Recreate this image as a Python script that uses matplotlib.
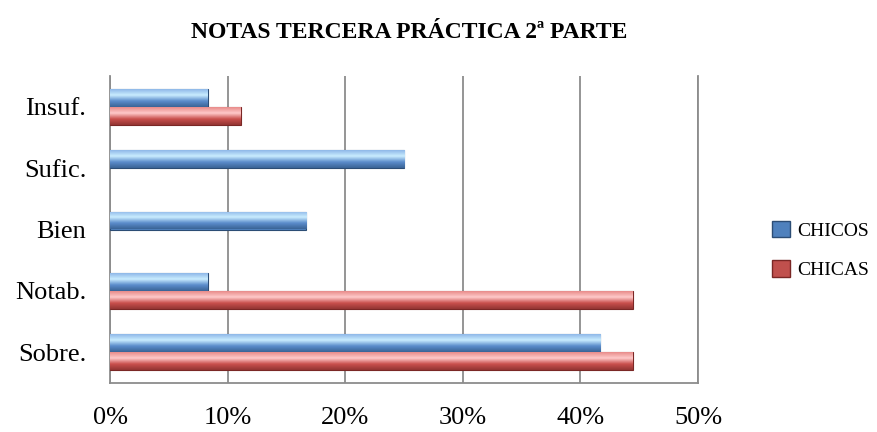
import matplotlib.pyplot as plt
import numpy as np
from matplotlib.colors import LinearSegmentedColormap
from matplotlib.patches import Patch

# notas por categoría (%)
categorias = ["Sobre.", "Notab.", "Bien", "Sufic.", "Insuf."]
chicos = [41.67, 8.33, 16.67, 25.0, 8.33]
chicas = [44.44, 44.44, 0.0, 0.0, 11.11]
xticks = [0, 10, 20, 30, 40, 50]

plt.rcParams['font.family'] = ['Liberation Serif', 'DejaVu Serif']

fig = plt.figure(figsize=(8.77, 4.32), dpi=100)
ax = fig.add_axes([110 / 877, 49 / 432, 588 / 877, 307 / 432])

y = np.arange(len(categorias))
h = 0.29
b_azul = ax.barh(y + h / 2, chicos, height=h, color="#4F81BD", edgecolor="#2C4D75", linewidth=0.8, zorder=3)
b_rojo = ax.barh(y - h / 2, chicas, height=h, color="#C0504D", edgecolor="#7A2725", linewidth=0.8, zorder=3)

# degradado tipo Excel dentro de cada barra
cm_azul = LinearSegmentedColormap.from_list("a", ["#3A6496", "#5B8CCB", "#C9ECFF", "#8FB8E8"])
cm_rojo = LinearSegmentedColormap.from_list("r", ["#933533", "#C9504D", "#FFC9C9", "#E88C8A"])
grad = np.linspace(0, 1, 64).reshape(-1, 1)
for barras, cm in [(b_azul, cm_azul), (b_rojo, cm_rojo)]:
    for p in barras:
        if p.get_width() <= 0:
            p.set_visible(False)
            continue
        x0, y0 = p.get_x(), p.get_y()
        im = ax.imshow(grad, cmap=cm, aspect="auto", origin="lower",
                       extent=[x0, x0 + p.get_width(), y0, y0 + p.get_height()], zorder=3.5)
        im.set_clip_path(p)

ax.set_xlim(0, 50)
ax.set_ylim(-0.5, len(categorias) - 0.5)
ax.set_xticks(xticks)
ax.set_xticklabels([f"{v}%" for v in xticks])
ax.set_yticks(y)
ax.set_yticklabels(categorias)
ax.tick_params(axis="x", length=0, pad=17, labelsize=19)
ax.tick_params(axis="y", length=0, pad=17, labelsize=19)
ax.grid(axis="x", color="#8C8C8C", linewidth=1.3, zorder=0)
ax.set_axisbelow(True)
for s in ["left", "bottom", "right"]:
    ax.spines[s].set_color("#8C8C8C")
    ax.spines[s].set_linewidth(1.3)
ax.spines["top"].set_visible(False)

fig.text(409 / 877, 1 - 32 / 432, "NOTAS TERCERA PRÁCTICA 2ª PARTE",
         ha="center", va="center", fontsize=17, fontweight="bold")

handles = [Patch(facecolor="#4F81BD", edgecolor="#2C4D75"),
           Patch(facecolor="#C0504D", edgecolor="#7A2725")]
fig.legend(handles, ["CHICOS", "CHICAS"], loc="center left",
           bbox_to_anchor=(762 / 877, 1 - 250 / 432), frameon=False, borderpad=0,
           fontsize=14, handlelength=0.95, handleheight=0.95, handletextpad=0.35,
           labelspacing=1.05)

fig.savefig("out.png", dpi=100)
